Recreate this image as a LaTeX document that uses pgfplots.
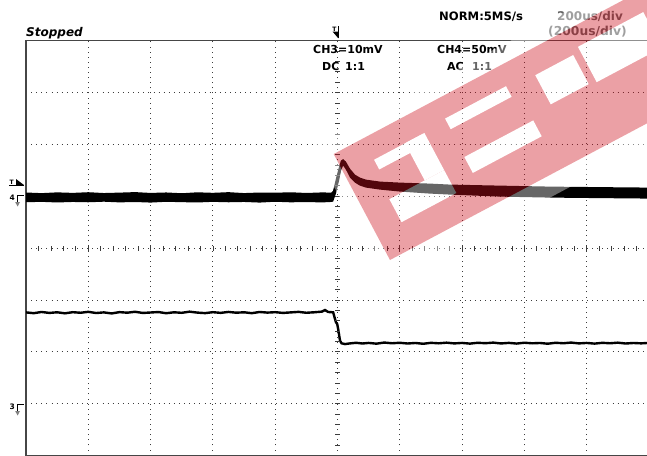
\documentclass[border=0pt]{standalone}
\usepackage{fontspec}
\setmainfont{DejaVu Sans}
\usepackage{pgfplots}
\usepackage{pgfplotstable}
\pgfplotsset{compat=1.18}
\usepgfplotslibrary{fillbetween}

\definecolor{wmred}{RGB}{205,17,30}
\definecolor{gridgray}{RGB}{60,60,60}
\definecolor{framegray}{RGB}{70,70,70}
\definecolor{hdrgray}{RGB}{95,95,95}

% CH4: envelope of the thick noisy trace (time in us, level in divisions)
\pgfplotstableread{
x     up     lo     mid
-1000 1.072  0.885  0.979
-950  1.060  0.892  0.976
-900  1.075  0.880  0.978
-850  1.065  0.890  0.978
-800  1.078  0.884  0.981
-750  1.062  0.895  0.979
-700  1.070  0.882  0.976
-650  1.080  0.889  0.985
-600  1.064  0.878  0.971
-550  1.073  0.893  0.983
-500  1.058  0.886  0.972
-450  1.076  0.880  0.978
-400  1.066  0.892  0.979
-350  1.079  0.884  0.982
-300  1.061  0.890  0.976
-250  1.072  0.878  0.975
-200  1.068  0.894  0.981
-150  1.077  0.883  0.980
-100  1.063  0.889  0.976
-50   1.074  0.881  0.978
-20   1.070  0.890  0.980
-14   1.109  0.897  1.003
-5    1.340  1.051  1.196
5     1.572  1.302  1.437
11    1.688  1.495  1.592
18    1.716  1.591  1.654
27    1.668  1.514  1.591
40    1.533  1.360  1.447
56    1.418  1.263  1.341
72    1.360  1.205  1.283
91    1.321  1.167  1.244
136   1.283  1.128  1.206
201   1.263  1.090  1.177
297   1.244  1.051  1.148
361   1.225  1.032  1.129
522   1.205  0.993  1.099
682   1.186  0.974  1.080
843   1.176  0.964  1.070
1000  1.167  0.955  1.061
}\chfour

% CH3: thin trace
\pgfplotstableread{
x     y
-1000 -1.240
-975  -1.255
-950  -1.232
-925  -1.250
-900  -1.238
-875  -1.258
-850  -1.236
-825  -1.247
-800  -1.229
-775  -1.252
-750  -1.240
-725  -1.260
-700  -1.235
-675  -1.246
-650  -1.228
-625  -1.251
-600  -1.242
-575  -1.233
-550  -1.256
-525  -1.238
-500  -1.248
-475  -1.226
-450  -1.244
-425  -1.254
-400  -1.236
-375  -1.249
-350  -1.231
-325  -1.246
-300  -1.238
-275  -1.255
-250  -1.232
-225  -1.244
-200  -1.236
-175  -1.250
-150  -1.240
-125  -1.230
-100  -1.247
-75   -1.238
-50   -1.225
-40   -1.195
-30   -1.232
-14   -1.238
-5    -1.431
-1    -1.462
3     -1.591
8     -1.784
13    -1.836
24    -1.851
40    -1.838
60    -1.826
80    -1.840
100   -1.829
125   -1.843
150   -1.822
175   -1.835
200   -1.826
225   -1.840
250   -1.830
275   -1.845
300   -1.827
325   -1.836
350   -1.824
375   -1.838
400   -1.829
425   -1.842
450   -1.826
475   -1.834
500   -1.823
525   -1.839
550   -1.828
575   -1.841
600   -1.825
625   -1.836
650   -1.830
675   -1.844
700   -1.826
725   -1.835
750   -1.822
775   -1.838
800   -1.829
825   -1.842
850   -1.827
875   -1.835
900   -1.824
925   -1.840
950   -1.830
975   -1.837
1000  -1.828
}\chthree

\begin{document}
\begin{tikzpicture}

\begin{axis}[
    at={(26pt,-40.7pt)}, anchor=north west,
    scale only axis, width=623pt, height=414.8pt,
    xmin=-1000, xmax=1000, ymin=-4, ymax=4,
    xtick={-1000,-800,...,1000}, ytick={-4,-3,...,4},
    xticklabels={}, yticklabels={},
    major tick length=0pt,
    grid=major,
    major grid style={gridgray, line width=0.9pt, dash pattern=on 0.9pt off 4.2pt},
    axis line style={framegray, line width=1.5pt},
  ]
  \addplot[name path=up, draw=none, forget plot] table[x=x, y=up] {\chfour};
  \addplot[name path=lo, draw=none, forget plot] table[x=x, y=lo] {\chfour};
  \addplot[black] fill between[of=up and lo];
  \addplot[black, line width=2.5pt] table[x=x, y=mid] {\chfour};
  \addplot[black, line width=2.4pt] table[x=x, y=y] {\chthree};
\end{axis}

% center graticule ticks
\begin{axis}[
    at={(26pt,-40.7pt)}, anchor=north west,
    scale only axis, width=623pt, height=414.8pt,
    xmin=-1000, xmax=1000, ymin=-4, ymax=4,
    axis x line*=middle, axis y line*=middle,
    axis line style={draw=none},
    xtick={-960,-920,...,960}, ytick={-3.8,-3.6,...,3.8},
    xticklabels={}, yticklabels={},
    tick style={gridgray, line width=0.8pt},
    major tick length=5pt, tick align=center,
  ]
  \addplot[draw=none] table[x=x, y=y] {\chthree};
\end{axis}

% header texts
\node[anchor=base west, inner sep=0pt, font=\fontsize{12}{14}\selectfont\bfseries\itshape] at (26pt,-36.5pt) {Stopped};
\node[anchor=base west, inner sep=0pt, font=\fontsize{11.6}{13}\selectfont\bfseries] at (439pt,-20.5pt) {NORM:5MS/s};
\node[anchor=base west, inner sep=0pt, text=hdrgray, font=\fontsize{12}{13}\selectfont\bfseries] at (557pt,-20.5pt) {200us/div};
\node[anchor=base west, inner sep=0pt, text=hdrgray, font=\fontsize{12.3}{13}\selectfont\bfseries] at (548pt,-35.5pt) {(200us/div)};
\node[anchor=base west, inner sep=0pt, font=\fontsize{11}{13}\selectfont\bfseries] at (313pt,-53.5pt) {CH3=10mV};
\node[anchor=base west, inner sep=0pt, font=\fontsize{11}{13}\selectfont\bfseries] at (322pt,-70pt) {DC};
\node[anchor=base west, inner sep=0pt, font=\fontsize{11}{13}\selectfont\bfseries] at (345pt,-70pt) {1:1};
\node[anchor=base west, inner sep=0pt, font=\fontsize{11}{13}\selectfont\bfseries] at (437pt,-53.5pt) {CH4=50mV};
\node[anchor=base west, inner sep=0pt, font=\fontsize{11}{13}\selectfont\bfseries] at (447pt,-70pt) {AC};
\node[anchor=base west, inner sep=0pt, font=\fontsize{11}{13}\selectfont\bfseries] at (472pt,-70pt) {1:1};

% trigger position marker
\node[anchor=base, inner sep=0pt, font=\fontsize{6}{6}\selectfont\bfseries] at (334.5pt,-31.5pt) {T};
\draw[black, line width=0.8pt] (338.3pt,-26pt) -- (338.3pt,-38.3pt);
\fill[black] (332.7pt,-31.7pt) -- (338.3pt,-31.7pt) -- (338.3pt,-38.3pt) -- cycle;

% trigger level marker
\node[anchor=base west, inner sep=0pt, font=\fontsize{6}{6}\selectfont\bfseries] at (9.3pt,-184.5pt) {T};
\fill[black] (16pt,-185pt) -- (24pt,-185pt) -- (16pt,-179pt) -- cycle;
\draw[black, line width=0.8pt] (9pt,-185pt) -- (24pt,-185pt);

% channel ground markers
\node[anchor=base west, inner sep=0pt, font=\fontsize{7.5}{8}\selectfont\bfseries] at (9.5pt,-200.5pt) {4};
\draw[black, line width=0.9pt] (17.5pt,-203pt) -- (17.5pt,-195pt) -- (23.5pt,-195pt);
\fill[gray] (15.2pt,-202pt) -- (20pt,-202pt) -- (17.6pt,-206.5pt) -- cycle;
\node[anchor=base west, inner sep=0pt, font=\fontsize{7.5}{8}\selectfont\bfseries] at (9.5pt,-409pt) {3};
\draw[black, line width=0.9pt] (17.5pt,-412pt) -- (17.5pt,-404pt) -- (23.5pt,-404pt);
\fill[gray] (15.2pt,-411pt) -- (20pt,-411pt) -- (17.6pt,-415.5pt) -- cycle;

% watermark: tilted pink logo band with white letter gaps
\begin{scope}[shift={(390pt,-260pt)}, rotate=28, transparency group, opacity=0.4]
  \fill[white] (-15pt,-20pt) rectangle (420pt,137pt);
  \fill[wmred] (0pt,0pt) rectangle (420pt,120pt);
  \fill[white] (33pt,85pt) rectangle (88pt,96pt);
  \fill[white] (68pt,54pt) rectangle (90pt,96pt);
  \fill[white] (28pt,28pt) rectangle (90pt,54pt);
  \fill[white] (115pt,87pt) rectangle (184pt,99pt);
  \fill[white] (114pt,38pt) rectangle (192pt,56pt);
  \fill[white] (215pt,62pt) rectangle (258pt,95pt);
  \fill[white] (266pt,60pt) rectangle (340pt,100pt);
\end{scope}

\pgfresetboundingbox
\path[use as bounding box] (0pt,0pt) rectangle (647pt,-455pt);
\end{tikzpicture}
\end{document}
